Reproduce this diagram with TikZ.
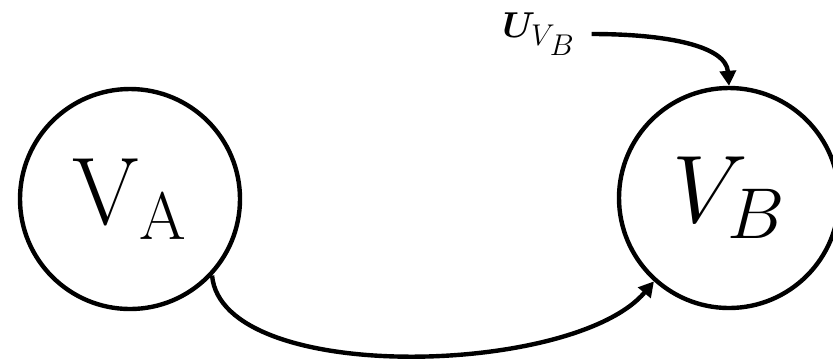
\documentclass[tikz,border=0pt]{standalone}
\usepackage{fix-cm}
\usepackage{amsmath,bm}
\usetikzlibrary{arrows.meta}
\newcommand{\subsz}{\fontsize{15}{15}\selectfont}
\begin{document}
\begin{tikzpicture}[x=0.5pt,y=-0.5pt,
  vnode/.style={circle,draw,line width=2.2pt,minimum size=110pt,inner sep=0pt,font=\fontsize{48}{56}\selectfont},
  conn/.style={line width=2.2pt,-{Triangle[length=7.5pt,width=8pt]}}]
\useasboundingbox (0,0) rectangle (833,361);
\node[vnode] (A) at (130,199) {$\mathrm{V_A}$};
\node[vnode] (B) at (729,198) {$V_{\mbox{\fontsize{36}{36}\selectfont$B$}}$};
\node[inner sep=0pt,outer sep=8pt,font=\fontsize{18}{20}\selectfont] (U) at (539,34)
  {$\bm{U}_{\mbox{\subsz$V\!_{\mbox{\subsz$B$}}$}}$};
\draw[conn] (U.east) .. controls +(75,0) and +(-3,-40) .. (B.north);
\draw[conn] (A.-43) .. controls +(10,110) and +(-80,95) .. (B.-132);
\end{tikzpicture}
\end{document}
